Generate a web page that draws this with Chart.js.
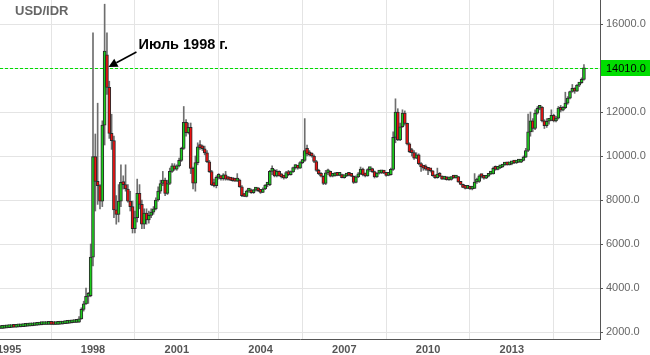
<!DOCTYPE html>
<html>
<head>
<meta charset="utf-8">
<script src="https://cdn.jsdelivr.net/npm/chart.js@4.4.1/dist/chart.umd.min.js"></script>
<style>
html,body{margin:0;padding:0;background:#fff;}
#wrap{width:650px;height:355px;position:relative;}
</style>
</head>
<body>
<div id="wrap"><canvas id="c" width="650" height="355"></canvas></div>
<script>
// ---- DATA (monthly candles, USD/IDR) ----
const firstMonth = '1994-09';          // first candle
const chartTitle = 'USD/IDR';
const annotationText = 'Июль 1998 г.';
const annotationMonth = '1998-07';
const currentPrice = 14010;
const xTickYears = [1995, 1998, 2001, 2004, 2007, 2010, 2013];
const yTickValues = [2000, 4000, 6000, 8000, 10000, 12000, 14000, 16000];

const openPrices = [
  2160,2165,2175,2185,
  2200,2205,2222,2218,2230,2240,2248,2258,2268,2278,2285,2295,
  2308,2320,2332,2340,2342,2350,2358,2345,2340,2348,2358,2362,
  2383,2392,2405,2420,2432,2440,2450,2600,3030,3280,3620,3650,
  5400,9970,8850,8650,7950,11400,14600,13120,11030,10700,7550,7350,
  7950,8800,8700,8500,7950,7700,6700,7200,8300,7800,6900,7400,
  7100,7300,7450,7600,8000,8400,8750,8900,8300,8750,9300,9550,
  9400,9550,9800,10350,11530,11060,11300,9440,8760,9700,10420,10380,
  10330,10140,9740,9290,8680,8650,9030,9050,8970,9140,8950,8930,
  8900,8880,8860,8900,8600,8200,8160,8400,8450,8330,8450,8480,
  8420,8350,8500,8680,8700,9300,9360,9100,9300,9100,9050,9000,
  9250,9150,9280,9470,9500,9450,9700,9800,10350,10150,10050,10000,
  9750,9350,9200,9080,8750,9230,9300,9080,9100,9230,9120,9160,
  9020,9090,9160,9120,9080,8800,9050,9190,9410,9140,9100,9380,
  9400,9290,9050,9220,9230,9320,9220,9120,9150,9390,10850,12000,
  10730,11330,11950,11480,10550,10200,10150,9900,10050,9650,9500,9450,
  9400,9350,9330,9110,9010,9180,9080,8950,9040,8920,8930,9030,
  9000,9060,8820,8710,8570,8530,8600,8500,8530,8820,8840,9100,
  9070,8990,9080,9180,9190,9440,9390,9460,9500,9590,9605,9600,
  9640,9700,9680,9720,9725,9800,9950,10250,11100,11600,11250,11950,
  12170,12220,11600,11380,11580,11620,11850,11590,11720,12180,12080,12200,
  12400,12630,12930,13080,12950,13220,13330,13480
];
const highPrices = [
  2170,2180,2190,2205,
  2212,2230,2232,2238,2248,2255,2265,2275,2285,2292,2302,2315,
  2328,2338,2345,2350,2356,2365,2362,2350,2355,2362,2370,2390,
  2398,2412,2428,2438,2448,2460,2700,3100,3400,4000,3800,6000,
  15600,11000,12400,8700,11600,16900,15600,13400,11900,10900,8200,8700,
  9600,9100,9600,8700,8400,7950,7500,8950,8700,8000,7600,7600,
  7500,7600,7700,8100,8600,8900,9300,9000,8900,9450,9650,9650,
  9600,9900,10400,12250,11650,11500,11500,9500,10000,10600,10700,10500,
  10450,10250,9800,9350,8950,9100,9200,9100,9200,9300,9050,8990,
  8950,8920,9200,8950,8650,8300,8450,8500,8500,8480,8550,8560,
  8480,8550,8700,8800,9350,9550,9400,9380,9330,9200,9100,9300,
  9350,9320,9500,9600,9550,9750,9850,11700,10500,10250,10150,10050,
  9800,9400,9250,9100,9350,9400,9320,9150,9250,9250,9200,9180,
  9100,9180,9250,9140,9100,9100,9250,9500,9450,9200,9420,9430,
  9450,9320,9250,9260,9350,9340,9250,9200,9450,11100,12600,12150,
  11500,12100,12050,11500,10600,10350,10250,10150,10100,9700,9550,9600,
  9450,9400,9340,9130,9450,9250,9100,9050,9060,8960,9050,9080,
  9080,9070,8850,8720,8600,8620,8620,8560,9200,9000,9150,9150,
  9100,9100,9200,9220,9500,9550,9480,9520,9600,9620,9630,9660,
  9720,9720,9740,9750,9820,10000,10350,11900,12000,11700,12100,12250,
  12300,12250,11650,11700,11700,12100,11900,11800,12250,12300,12250,12900,
  12700,12950,13250,13100,13250,13350,13550,14150
];
const lowPrices = [
  2155,2160,2170,2180,
  2195,2200,2210,2212,2225,2235,2242,2252,2262,2272,2280,2290,
  2300,2315,2325,2335,2338,2345,2335,2330,2335,2342,2350,2355,
  2375,2385,2398,2412,2425,2432,2440,2580,2950,3250,3300,3600,
  5000,7500,7800,7600,7700,10500,12800,10800,10300,7200,6900,7000,
  7700,8500,8400,7900,7500,6500,6500,7000,7600,6700,6700,6900,
  6950,7200,7350,7550,7950,8300,8650,8200,8250,8700,9250,9350,
  9350,9500,9750,10300,10900,11000,9200,8500,8400,9600,10300,10250,
  10050,9700,9250,8650,8600,8550,8950,8900,8900,8900,8900,8880,
  8850,8850,8840,8580,8150,8150,8140,8350,8300,8300,8400,8380,
  8300,8330,8470,8600,8650,9150,9050,9050,9080,9000,8950,8980,
  9100,9130,9250,9400,9400,9430,9650,9750,10000,10000,9950,9700,
  9300,9150,9050,8700,8700,9150,9050,9050,9080,9100,9100,9000,
  8990,9060,9100,9060,8750,8780,9020,9150,9100,9050,9080,9300,
  9250,9000,9030,9180,9200,9200,9080,9100,9130,9350,10600,10700,
  10700,11300,11400,10500,10150,10000,9850,9880,9600,9300,9350,9350,
  9150,9270,9080,8980,8990,9050,8930,8930,8900,8890,8900,8980,
  8990,8800,8690,8560,8500,8520,8480,8460,8520,8750,8800,9000,
  8950,8970,9050,9150,9180,9350,9370,9430,9480,9570,9580,9590,
  9600,9650,9660,9700,9700,9780,9930,10200,10900,11100,11200,11900,
  12100,11550,11250,11300,11450,11600,11550,11550,11680,12000,12050,12150,
  12350,12600,12900,12850,12930,13150,13300,13450
];
const closePrices = [
  2165,2175,2185,2200,
  2205,2222,2218,2230,2240,2248,2258,2268,2278,2285,2295,2308,
  2320,2332,2340,2342,2350,2358,2345,2340,2348,2358,2362,2383,
  2392,2405,2420,2432,2440,2450,2600,3030,3280,3620,3650,5400,
  9970,8850,8650,7950,11400,14770,13120,11030,10700,7550,7350,7950,
  8800,8700,8500,7950,7700,6700,7200,8300,7800,6900,7400,7100,
  7300,7450,7600,8000,8400,8750,8900,8300,8750,9300,9550,9400,
  9550,9800,10350,11530,11060,11300,9440,8760,9700,10420,10380,10330,
  10140,9740,9290,8680,8650,9030,9050,8970,9140,8950,8930,8900,
  8880,8860,8900,8600,8200,8160,8400,8450,8330,8450,8480,8420,
  8350,8500,8680,8700,9300,9360,9100,9300,9100,9050,9000,9250,
  9150,9280,9470,9500,9450,9700,9800,10250,10100,10050,10000,9750,
  9350,9200,9080,8750,9230,9300,9080,9100,9230,9120,9160,9020,
  9090,9160,9120,9080,8800,9050,9190,9410,9140,9100,9380,9400,
  9290,9050,9220,9230,9320,9220,9120,9150,9390,10850,12000,10730,
  11330,11950,11480,10550,10200,10150,9900,10050,9650,9500,9450,9400,
  9350,9330,9110,9010,9180,9080,8950,9040,8920,8930,9030,9000,
  9060,8820,8710,8570,8530,8600,8500,8530,8820,8840,9100,9070,
  8990,9080,9180,9190,9440,9390,9460,9500,9590,9605,9600,9640,
  9700,9680,9720,9725,9800,9950,10250,11100,11600,11250,11950,12170,
  12220,11600,11380,11580,11620,11850,11590,11720,12180,12080,12200,12400,
  12630,12930,13080,12950,13220,13330,13480,14010
];

// ---- helpers ----
const FONT = '"Liberation Sans", Arial, sans-serif';
function monthIndex(label) { // months since Jan 1995
  const [y, m] = label.split('-').map(Number);
  return (y - 1995) * 12 + (m - 1);
}
const startIdx = monthIndex(firstMonth);
const months = openPrices.map((_, i) => {
  const k = startIdx + i;
  const y = 1995 + Math.floor(k / 12);
  const m = ((k % 12) + 12) % 12 + 1;
  return y + '-' + String(m).padStart(2, '0');
});

const wickData = months.map((mo, i) => ({ x: monthIndex(mo), y: [lowPrices[i], highPrices[i]] }));
const bodyData = months.map((mo, i) => ({ x: monthIndex(mo), y: [openPrices[i], closePrices[i]] }));
const bodyColors = months.map((_, i) => closePrices[i] >= openPrices[i] ? '#1ccc1c' : '#ee1010');

const overlay = {
  id: 'overlay',
  beforeDatasetsDraw(chart) {
    const { ctx, chartArea: a, scales: { y } } = chart;
    const py = Math.round(y.getPixelForValue(currentPrice)) + 0.5;
    ctx.save();
    ctx.strokeStyle = '#00dd00';
    ctx.lineWidth = 1;
    ctx.setLineDash([3, 2]);
    ctx.beginPath();
    ctx.moveTo(a.left, py);
    ctx.lineTo(a.right, py);
    ctx.stroke();
    ctx.restore();
  },
  afterDraw(chart) {
    const { ctx, chartArea: a, scales: { x, y } } = chart;
    const py = Math.round(y.getPixelForValue(currentPrice));
    ctx.save();
    // price label box
    ctx.fillStyle = '#00dd00';
    ctx.fillRect(a.right + 1, py - 8, chart.width - a.right - 1, 16);
    ctx.fillStyle = '#000';
    ctx.font = '11px ' + FONT;
    ctx.textBaseline = 'middle';
    ctx.textAlign = 'left';
    ctx.fillText(currentPrice.toFixed(1), a.right + 6, py + 0.5);
    // title
    ctx.fillStyle = '#666';
    ctx.font = 'bold 13px ' + FONT;
    ctx.fillText(chartTitle, 15, 11);
    // annotation
    const tx = x.getPixelForValue(monthIndex(annotationMonth)) + 1.5;
    const ty = py - 1;
    const sx = tx + 28, sy = ty - 15;
    ctx.fillStyle = '#000';
    ctx.font = 'bold 14.5px ' + FONT;
    ctx.fillText(annotationText, sx + 2, sy - 7);
    ctx.strokeStyle = '#000';
    ctx.lineWidth = 1.6;
    const ang = Math.atan2(ty - sy, tx - sx);
    const hl = 9, hw = 4.5;
    const bx = tx - hl * Math.cos(ang), by = ty - hl * Math.sin(ang);
    ctx.beginPath();
    ctx.moveTo(sx, sy);
    ctx.lineTo(bx, by);
    ctx.stroke();
    ctx.beginPath();
    ctx.moveTo(tx, ty);
    ctx.lineTo(bx + hw * Math.sin(ang), by - hw * Math.cos(ang));
    ctx.lineTo(bx - hw * Math.sin(ang), by + hw * Math.cos(ang));
    ctx.closePath();
    ctx.fill();
    ctx.restore();
  }
};

new Chart(document.getElementById('c'), {
  type: 'bar',
  data: {
    datasets: [
      {
        data: wickData,
        backgroundColor: '#6e6e6e',
        barThickness: 1,
        grouped: false,
        order: 2
      },
      {
        data: bodyData,
        backgroundColor: bodyColors,
        borderColor: '#2a2a2a',
        borderWidth: 1,
        borderSkipped: false,
        barThickness: 3,
        minBarLength: 3,
        grouped: false,
        order: 1
      }
    ]
  },
  options: {
    responsive: false,
    animation: false,
    devicePixelRatio: 1,
    layout: { padding: 0 },
    plugins: { legend: { display: false }, tooltip: { enabled: false } },
    scales: {
      x: {
        type: 'linear',
        min: -3.97,
        max: 253.9,
        offset: false,
        afterBuildTicks: (s) => { s.ticks = xTickYears.map(yr => ({ value: (yr - 1995) * 12 })); },
        afterFit: (s) => { s.height = 16; s.paddingLeft = 0; s.paddingRight = 0; },
        grid: { color: '#e4e4e4', drawTicks: false },
        border: { display: true, color: '#555', width: 1 },
        ticks: {
          padding: 4,
          autoSkip: false,
          maxRotation: 0,
          color: '#555',
          font: { family: FONT, size: 11, weight: 'bold' },
          callback: (v) => String(1995 + Math.round(v / 12))
        }
      },
      y: {
        position: 'right',
        min: 1682,
        max: 17091,
        afterBuildTicks: (s) => { s.ticks = yTickValues.map(v => ({ value: v })); },
        afterFit: (s) => { s.width = 50; s.paddingTop = 0; s.paddingBottom = 0; },
        grid: { color: '#e4e4e4', tickColor: '#555', tickLength: 3, drawTicks: true },
        border: { display: true, color: '#555', width: 1 },
        ticks: {
          padding: 3,
          color: '#666',
          font: { family: FONT, size: 11 },
          callback: (v) => Number(v).toFixed(1)
        }
      }
    }
  },
  plugins: [overlay]
});
</script>
</body>
</html>
